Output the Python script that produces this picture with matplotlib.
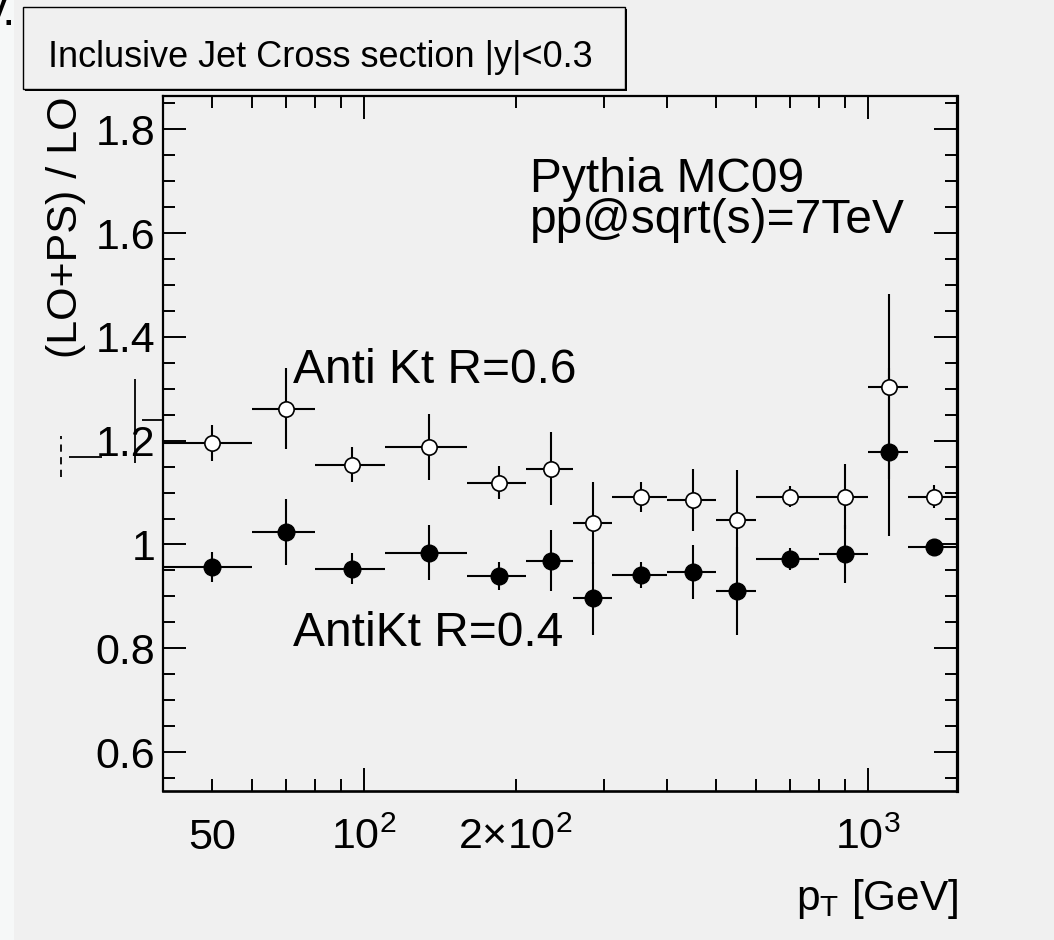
import numpy as np
import matplotlib
matplotlib.use('Agg')
import matplotlib.pyplot as plt
import matplotlib.font_manager as fm
from matplotlib.patches import Rectangle
from matplotlib.ticker import FixedLocator, FuncFormatter

# pT bins [GeV]
bin_lo = [40, 60, 80, 110, 160, 210, 260, 310, 400, 500, 600, 800, 1000, 1200]
bin_hi = [60, 80, 110, 160, 210, 260, 310, 400, 500, 600, 800, 1000, 1200, 1500]
pt = [50, 70, 95, 135, 185, 235, 285, 355, 450, 550, 700, 900, 1100, 1350]

# (LO+PS)/LO, anti-kt R=0.6 (open) and R=0.4 (filled)
r06 = [1.196, 1.261, 1.154, 1.188, 1.119, 1.146, 1.042, 1.092, 1.085, 1.047, 1.092, 1.092, 1.304, 1.092]
r06_err = [0.035, 0.078, 0.034, 0.063, 0.032, 0.070, 0.079, 0.029, 0.060, 0.096, 0.020, 0.063, 0.178, 0.022]
r04 = [0.956, 1.024, 0.953, 0.984, 0.940, 0.969, 0.896, 0.942, 0.946, 0.910, 0.972, 0.981, 1.178, 0.996]
r04_err = [0.029, 0.063, 0.030, 0.053, 0.027, 0.059, 0.071, 0.025, 0.052, 0.085, 0.021, 0.056, 0.161, 0.015]

# leftover bits of another overlay, sitting left of the frame
stray_pt = [35.2, 25.1]
stray_lo = [1.156, 1.129]
stray_hi = [1.319, 1.208]
stray_y = [1.239, 1.169]
stray_xlo = [36.3, 26.1]
stray_xhi = [40.0, 30.3]

y_ticks = [0.6, 0.8, 1.0, 1.2, 1.4, 1.6, 1.8]
x_major = [100, 1000]
x_minor = [50, 60, 70, 80, 90, 200, 300, 400, 500, 600, 700, 800, 900]
x_labels = {50: r'$\mathregular{50}$', 100: r'$\mathregular{10^{2}}$',
            200: r'$\mathregular{2{\times}10^{2}}$', 1000: r'$\mathregular{10^{3}}$'}

bg = '#f0f0f0'
plt.rcParams['font.family'] = ['Liberation Sans', 'DejaVu Sans']
plt.rcParams['mathtext.fontset'] = 'custom'
plt.rcParams['mathtext.rm'] = 'Liberation Sans'

installed = {f.name for f in fm.fontManager.ttflist}
if 'Liberation Sans Narrow' in installed:
    title_font, title_size = ['Liberation Sans Narrow', 'DejaVu Sans'], 31
else:
    title_font, title_size = ['Liberation Sans', 'DejaVu Sans'], 26

W, H = 1054, 940
fig = plt.figure(figsize=(W / 100, H / 100), dpi=100, facecolor=bg)
fig.patches.append(Rectangle((0, 0), 14 / W, 1, transform=fig.transFigure,
                             facecolor='#f6f8f8', edgecolor='none', zorder=0))
ax = fig.add_axes([163 / W, 1 - 791 / H, (957 - 163) / W, (791 - 96) / H])
ax.set_facecolor(bg)

pt = np.array(pt)
xerr = [pt - np.array(bin_lo), np.array(bin_hi) - pt]

ax.errorbar(pt, r04, yerr=r04_err, xerr=xerr, fmt='none', ecolor='black',
            elinewidth=1.5, capsize=0, zorder=3)
ax.errorbar(pt, r06, yerr=r06_err, xerr=xerr, fmt='none', ecolor='black',
            elinewidth=1.5, capsize=0, zorder=3)
ax.plot(pt, r04, 'o', ms=12, mfc='black', mec='black', ls='none', zorder=5)
ax.plot(pt, r06, 'o', ms=11, mfc='white', mec='black', mew=1.2, ls='none', zorder=5)

ax.vlines(stray_pt, stray_lo, stray_hi, colors='black', linewidth=1.3,
          linestyles=['-', (0, (4, 3))], clip_on=False)
ax.hlines(stray_y, stray_xlo, stray_xhi, colors='black', linewidth=1.3, clip_on=False)

ax.set_xscale('log')
ax.set_xlim(40, 1500)
ax.set_ylim(0.525, 1.864)

ax.xaxis.set_major_locator(FixedLocator(x_major))
ax.xaxis.set_minor_locator(FixedLocator(x_minor))
fmt_x = FuncFormatter(lambda v, p: x_labels.get(int(round(v)), ''))
ax.xaxis.set_major_formatter(fmt_x)
ax.xaxis.set_minor_formatter(fmt_x)
ax.yaxis.set_major_locator(FixedLocator(y_ticks))
ax.yaxis.set_minor_locator(FixedLocator(np.arange(0.55, 1.86, 0.05)))
ax.yaxis.set_major_formatter(FuncFormatter(lambda v, p: '%g' % round(v, 2)))

ax.tick_params(which='both', direction='in', top=True, right=True, width=1.4,
               labelsize=31, colors='black')
ax.tick_params(which='major', length=16.5)
ax.tick_params(which='minor', length=8.6)
ax.tick_params(axis='y', pad=5.5)
ax.tick_params(axis='x', which='both', pad=41.5)
for lbl in ax.get_xticklabels(which='both'):
    lbl.set_verticalalignment('baseline')

for side in ['left', 'top']:
    ax.spines[side].set_linewidth(1.6)
ax.spines['bottom'].set_linewidth(1.9)
ax.spines['right'].set_linewidth(2.3)

ax.text(0.1637, 0.587, 'Anti Kt R=0.6', transform=ax.transAxes, fontsize=34.5, va='baseline')
ax.text(0.1637, 0.2086, 'AntiKt R=0.4', transform=ax.transAxes, fontsize=34.5, va='baseline')
ax.text(0.462, 0.862, 'Pythia MC09', transform=ax.transAxes, fontsize=34.5, va='baseline')
ax.text(0.462, 0.803, 'pp@sqrt(s)=7TeV', transform=ax.transAxes, fontsize=34.5, va='baseline')

fig.text(66 / W, 1 - 97 / H, '(LO+PS) / LO', rotation=90, fontsize=31, ha='center', va='top')
fig.text(958 / W, 1 - 910 / H, r'p$_{\mathregular{T}}$ [GeV]', fontsize=30.5,
         ha='right', va='baseline')

# title pad with drop shadow
fig.patches.append(Rectangle((25 / W, 1 - 91 / H), 602 / W, 82 / H, transform=fig.transFigure,
                             facecolor='black', edgecolor='none', zorder=1))
fig.patches.append(Rectangle((23 / W, 1 - 89 / H), 602 / W, 82 / H, transform=fig.transFigure,
                             facecolor=bg, edgecolor='black', linewidth=1.0, zorder=2))
fig.text(48 / W, 1 - 67 / H, 'Inclusive Jet Cross section |y|<0.3', family=title_font,
         fontsize=title_size, va='baseline', zorder=3)
fig.text(16 / W, 1 - 25 / H, 'y.', fontsize=34, ha='right', va='baseline')

fig.savefig('out.png', dpi=100, facecolor=bg)
